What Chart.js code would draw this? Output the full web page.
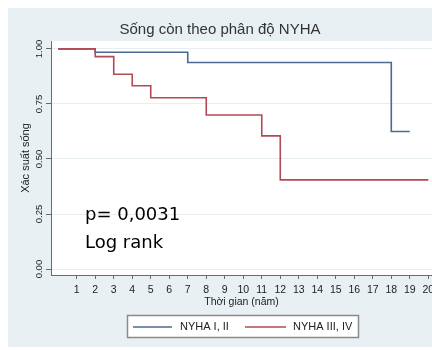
<!DOCTYPE html>
<html lang="vi">
<head>
    <meta charset="UTF-8">
    <title>Sống còn theo phân độ NYHA</title>
</head>
<style>
    body {
    margin: 0;
    background-color: #ffffff;
}
canvas {
    display: block;
}
</style>
<body>
    <canvas id="kmChart" width="432" height="350"></canvas>
    <script src="https://cdn.jsdelivr.net/npm/chart.js"></script>
    <script>
// Kaplan-Meier steps
const seriesNames = ['NYHA I, II', 'NYHA III, IV'];
const timesNyha12 = [0, 2, 7, 18, 19];
const survNyha12 = [1.0, 0.985, 0.938, 0.625, 0.625];
const timesNyha34 = [0, 2, 3, 4, 5, 8, 11, 12, 20];
const survNyha34 = [1.0, 0.965, 0.885, 0.833, 0.778, 0.70, 0.605, 0.405, 0.405];

const xTicks = [1, 2, 3, 4, 5, 6, 7, 8, 9, 10, 11, 12, 13, 14, 15, 16, 17, 18, 19, 20];
const yTicks = [0, 0.25, 0.5, 0.75, 1];
const yTickLabels = ['0.00', '0.25', '0.50', '0.75', '1.00'];
const noteLines = ['p= 0,0031', 'Log rank'];

const toPoints = (xs, ys) => xs.map((x, i) => ({ x: x, y: ys[i] }));

const BG = '#e9f0f3';
const AXIS = '#6b6b6b';

// background, plot area, y tick labels, note and framed legend
const decor = {
    id: 'decor',
    beforeDraw(chart) {
        const ctx = chart.ctx;
        const a = chart.chartArea;
        ctx.save();
        ctx.fillStyle = '#ffffff';
        ctx.fillRect(0, 0, chart.width, chart.height);
        ctx.fillStyle = BG;
        ctx.fillRect(8, 8, chart.width - 8, 339);
        ctx.fillStyle = '#ffffff';
        ctx.fillRect(a.left, a.top, a.right - a.left, a.bottom - a.top);
        ctx.restore();
    },
    afterDraw(chart) {
        const ctx = chart.ctx;
        const ys = chart.scales.y;
        ctx.save();
        // rotated y tick labels
        ctx.fillStyle = '#222';
        ctx.font = '9.5px "Liberation Sans", Arial, sans-serif';
        ctx.textAlign = 'center';
        ctx.textBaseline = 'middle';
        yTicks.forEach((v, i) => {
            const py = ys.getPixelForValue(v);
            ctx.save();
            ctx.translate(39, py);
            ctx.rotate(-Math.PI / 2);
            ctx.fillText(yTickLabels[i], 0, 0);
            ctx.restore();
        });

        // p-value note
        ctx.fillStyle = '#000';
        ctx.font = '18px "DejaVu Sans", sans-serif';
        ctx.textAlign = 'left';
        ctx.textBaseline = 'alphabetic';
        ctx.fillText(noteLines[0], 85, 220);
        ctx.fillText(noteLines[1], 85, 248);

        // legend box
        ctx.fillStyle = '#ffffff';
        ctx.fillRect(127, 315, 232, 23);
        ctx.strokeStyle = '#8a8a8a';
        ctx.lineWidth = 1.5;
        ctx.strokeRect(127.5, 315.5, 231, 22);
        const items = [{ x0: 133, x1: 172, tx: 180 }, { x0: 245, x1: 286, tx: 293 }];
        ctx.font = '11px "Liberation Sans", Arial, sans-serif';
        ctx.textBaseline = 'middle';
        chart.data.datasets.forEach((ds, i) => {
            const it = items[i];
            ctx.strokeStyle = ds.borderColor;
            ctx.lineWidth = 1.5;
            ctx.beginPath();
            ctx.moveTo(it.x0, 327);
            ctx.lineTo(it.x1, 327);
            ctx.stroke();
            ctx.fillStyle = '#222';
            ctx.fillText(ds.label, it.tx, 327);
        });
        ctx.restore();
    }
};

const ctx = document.getElementById('kmChart').getContext('2d');
Chart.defaults.font.family = '"Liberation Sans", Arial, sans-serif';
new Chart(ctx, {
    type: 'line',
    data: {
        datasets: [{
            label: seriesNames[0],
            data: toPoints(timesNyha12, survNyha12),
            borderColor: '#4a6a92',
            borderWidth: 1.6,
            stepped: true,
            pointRadius: 0,
            fill: false,
            order: 1
        }, {
            label: seriesNames[1],
            data: toPoints(timesNyha34, survNyha34),
            borderColor: '#b24a55',
            borderWidth: 1.6,
            stepped: true,
            pointRadius: 0,
            fill: false,
            order: 0
        }]
    },
    options: {
        responsive: false,
        animation: false,
        devicePixelRatio: 1,
        layout: { padding: { left: 8, top: 0, right: 0, bottom: 0 } },
        plugins: {
            legend: { display: false },
            tooltip: { enabled: false },
            title: {
                display: true,
                text: 'Sống còn theo phân độ NYHA',
                color: '#333',
                font: { size: 15, weight: 'normal' },
                padding: { top: 20.5, bottom: 2.5 }
            }
        },
        scales: {
            x: {
                type: 'linear',
                min: -0.39,
                max: 20.2,
                afterBuildTicks: s => { s.ticks = xTicks.map(v => ({ value: v })); },
                afterFit: s => { s.height = 75; s.paddingLeft = 0; s.paddingRight = 0; },
                ticks: { color: '#222', font: { size: 10.5 }, padding: 5, maxRotation: 0, autoSkip: false },
                grid: { drawOnChartArea: false, tickLength: 4, tickColor: AXIS },
                border: { color: AXIS, width: 1 },
                title: {
                    display: true,
                    text: 'Thời gian (năm)',
                    color: '#222',
                    font: { size: 10.5 },
                    padding: { top: 0, bottom: 41.5 }
                }
            },
            y: {
                min: -0.027,
                max: 1.036,
                afterBuildTicks: s => { s.ticks = yTicks.map(v => ({ value: v })); },
                afterFit: s => { s.width = 43; s.paddingTop = 0; s.paddingBottom = 0; },
                ticks: { display: false },
                grid: { color: '#e6eef1', lineWidth: 1, tickLength: 5, tickColor: AXIS },
                border: { color: AXIS, width: 1 },
                title: {
                    display: true,
                    text: 'Xác suất sống',
                    color: '#222',
                    font: { size: 11 },
                    padding: { top: 11, bottom: 0 }
                }
            }
        }
    },
    plugins: [decor]
});
    </script>
</body>
</html>
